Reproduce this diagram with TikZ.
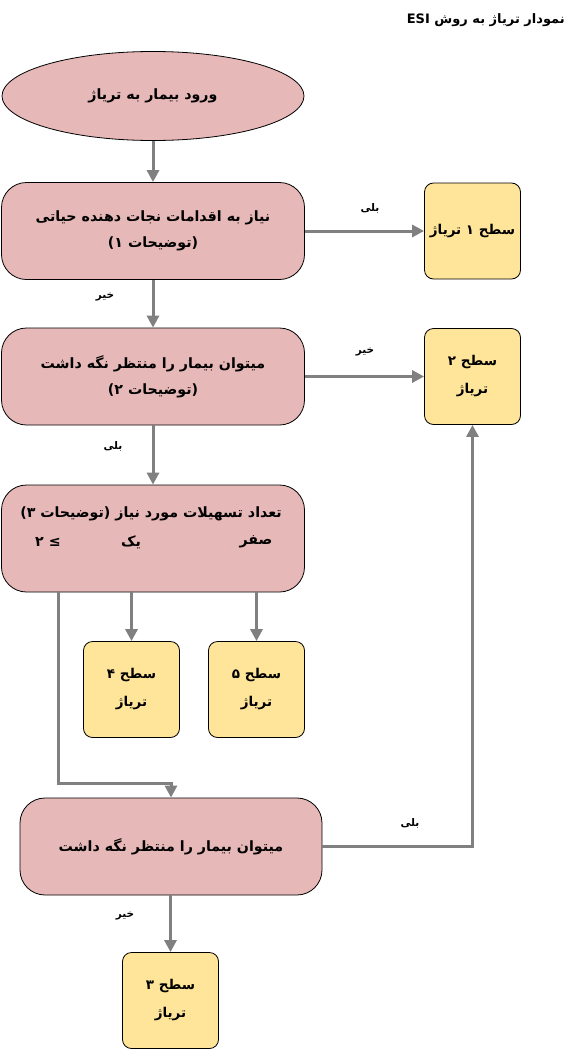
\documentclass[tikz,border=0pt]{standalone}
\usepackage{fontspec}
\usetikzlibrary{shapes.geometric,arrows.meta}
\TeXXeTstate=1
\newfontfamily\fa[Script=Arabic]{DejaVu Sans}
\newfontfamily\symfont{DejaVu Sans}
\definecolor{pinkfill}{HTML}{E6B8B7}
\definecolor{yellowfill}{HTML}{FFE599}
\definecolor{arrowgray}{HTML}{808080}
\newcommand{\RLtxt}[1]{\beginR #1\endR}
\begin{document}
\begin{tikzpicture}[x=1pt,y=-1pt,
  proc/.style={draw=black, line width=0.8pt, fill=pinkfill, rounded corners=25pt,
    minimum width=303pt, minimum height=97pt, align=center, inner sep=0pt,
    font=\fa\bfseries\fontsize{14.2}{26}\selectfont},
  startnode/.style={ellipse, draw=black, line width=0.8pt, fill=pinkfill,
    minimum width=302pt, minimum height=89pt, inner sep=0pt,
    font=\fa\bfseries\fontsize{14.2}{26}\selectfont},
  lvl/.style={draw=black, line width=0.8pt, fill=yellowfill, rounded corners=9pt,
    minimum width=96pt, minimum height=96pt, align=center, inner sep=0pt,
    font=\fa\bfseries\fontsize{13.5}{28}\selectfont},
  txt/.style={inner sep=0pt, font=\fa\bfseries\fontsize{14.2}{26}\selectfont},
  conn/.style={draw=arrowgray, line width=3pt, -{Triangle[length=12pt,width=12pt]}},
  lbl/.style={inner sep=0pt, font=\fa\bfseries\fontsize{10.5}{12}\selectfont}]
\useasboundingbox (0,0) rectangle (577,1052);

% title
\node[inner sep=0pt, anchor=east, font=\fa\bfseries\fontsize{13}{16}\selectfont] (title) at (565,20)
  {\RLtxt{نمودار تریاژ به روش \beginL ESI\endL}};

% main column
\node[startnode] (start) at (153,96) {\RLtxt{ورود بیمار به تریاژ}};
\node[proc] (b1) at (153,231) {\RLtxt{نیاز به اقدامات نجات دهنده حیاتی}\\ \RLtxt{(توضیحات ۱)}};
\node[proc] (b2) at (153,376.5) {\RLtxt{میتوان بیمار را منتظر نگه داشت}\\ \RLtxt{(توضیحات ۲)}};
\node[proc, minimum height=107pt] (b3) at (153,538.5) {};
\node[txt] (b3t) at (151,514) {\RLtxt{تعداد تسهیلات مورد نیاز (توضیحات ۳)}};
\node[txt] (b3zero) at (256,542) {\RLtxt{صفر}};
\node[txt] (b3one) at (131,542) {\RLtxt{یک}};
\node[txt] (b3two) at (48,542) {\RLtxt{{\symfont\bfseries ≤} ۲}};
\node[proc, minimum width=302pt] (b4) at (171,846.5) {\RLtxt{میتوان بیمار را منتظر نگه داشت}};

% levels
\node[lvl] (l1) at (472.5,231) {\RLtxt{سطح ۱ تریاژ}};
\node[lvl] (l2) at (472.5,376.5) {\RLtxt{سطح ۲}\\ \RLtxt{تریاژ}};
\node[lvl] (l4) at (131.5,689.5) {\RLtxt{سطح ۴}\\ \RLtxt{تریاژ}};
\node[lvl] (l5) at (256.5,689.5) {\RLtxt{سطح ۵}\\ \RLtxt{تریاژ}};
\node[lvl] (l3) at (170.5,1000.5) {\RLtxt{سطح ۳}\\ \RLtxt{تریاژ}};

% connectors
\draw[conn] (start) -- (b1);
\draw[conn] (b1) -- (l1);
\draw[conn] (b1) -- (b2);
\draw[conn] (b2) -- (l2);
\draw[conn] (b2) -- (b3);
\draw[conn] (l4.north |- b3.south) -- (l4.north);
\draw[conn] (l5.north |- b3.south) -- (l5.north);
\coordinate (bend) at (58,783);
\draw[conn] (bend |- b3.south) -- (bend) -| (b4.north);
\draw[conn] (b4.east) -| (l2.south);
\draw[conn] (b4.south -| l3.north) -- (l3.north);

% labels
\node[lbl] (y1) at (370,208) {\RLtxt{بلی}};
\node[lbl] (n1) at (105,297) {\RLtxt{خیر}};
\node[lbl] (n2) at (365,352) {\RLtxt{خیر}};
\node[lbl] (y2) at (113,446) {\RLtxt{بلی}};
\node[lbl] (y3) at (410,823) {\RLtxt{بلی}};
\node[lbl] (n3) at (125,916) {\RLtxt{خیر}};
\end{tikzpicture}
\end{document}
